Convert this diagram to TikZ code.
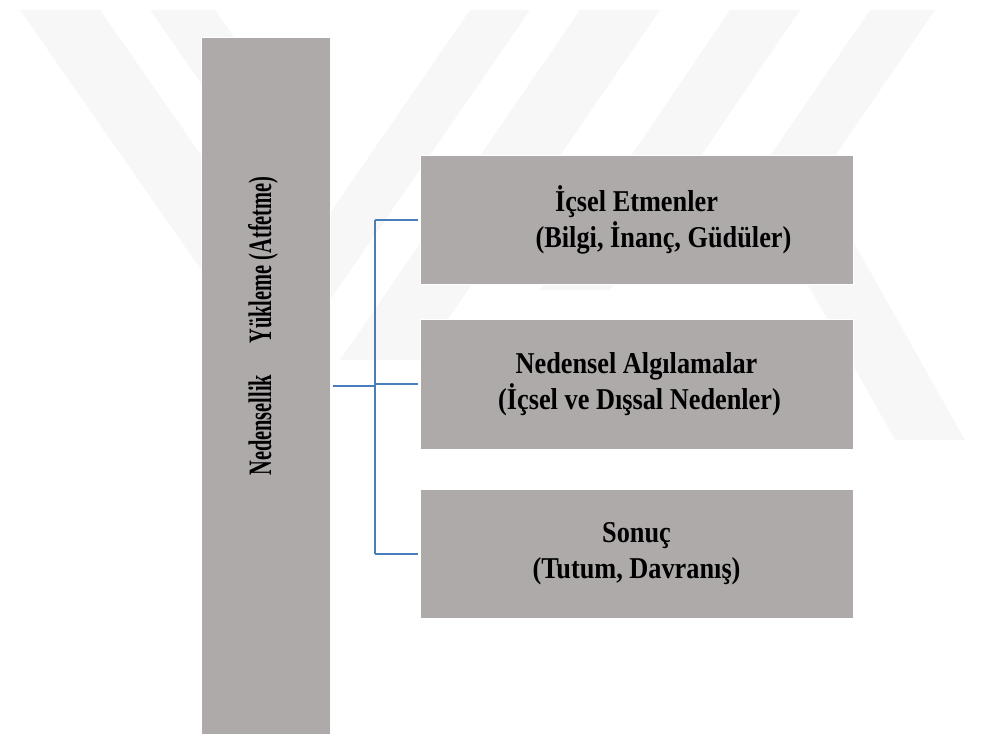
\documentclass[tikz,border=0pt]{standalone}
\usepackage{fontspec}
\setmainfont{Liberation Serif}
\usetikzlibrary{
    positioning,
    calc
}
\definecolor{boxgray}{HTML}{AEAAAA}
\definecolor{linkblue}{HTML}{4A7EBB}
\definecolor{wmarkgray}{HTML}{F7F7F7}
\newcommand{\tallrow}[1]{\scalebox{1}[1.15]{#1}}

\begin{document}
\begin{tikzpicture}[
        x=1bp, y=-1bp,
        greybox/.style={fill=boxgray, draw=white, line width=1bp, inner sep=0pt, align=center,
            font=\bfseries\fontsize{26.4}{36}\selectfont},
        sidebox/.style={greybox, minimum width=433bp, minimum height=129bp},
        link/.style={draw=linkblue, line width=2bp},
        wmark/.style={fill=wmarkgray}
    ]
                        \useasboundingbox (0, 0) rectangle (981, 736);
                        % faint watermark
                        \fill[wmark] (20, 10) -- (100, 10) -- (330, 340) -- (250, 340) -- cycle;
                        \fill[wmark] (150, 10) -- (215, 10) -- (330, 175) -- (265, 175) -- cycle;
                        \fill[wmark] (470, 10) -- (530, 10) -- (330, 300) -- (270, 300) -- cycle;
                        \fill[wmark] (580, 10) -- (660, 10) -- (420, 360) -- (340, 360) -- cycle;
                        \fill[wmark] (730, 10) -- (800, 10) -- (610, 290) -- (540, 290) -- cycle;
                        \fill[wmark] (870, 10) -- (935, 10) -- (750, 280) -- (685, 280) -- cycle;
                        \fill[wmark] (760, 200) -- (830, 200) -- (965, 440) -- (895, 440) -- cycle;
                        % boxes
                        \node[greybox, minimum width=129bp, minimum height=696bp] (yukleme) at (265.5, 386) {};
                        \node[rotate=90, font=\bfseries\fontsize{20.5}{24}\selectfont] (yuklemelbl) at (263, 326)
                            {\scalebox{1}[1.6]{Nedensellik\hspace{31bp}Yükleme (Atfetme)}};
                        \node[sidebox] (icsel) at (636.5, 219.5)
                            {\tallrow{İçsel Etmenler}\\\hspace*{54bp}\tallrow{(Bilgi, İnanç, Güdüler)}};
                        \node[sidebox, minimum height=130bp, below=34bp of icsel] (algi)
                            {\tallrow{Nedensel Algılamalar}\\\hspace*{6bp}\tallrow{(İçsel ve Dışsal Nedenler)}};
                        \node[sidebox, below=39bp of algi] (sonuc)
                            {\tallrow{Sonuç}\\\tallrow{(Tutum, Davranış)}};
                        % connectors
                        \coordinate (hub) at (375, 386);
                        \draw[link, line width=2.8bp, shorten <=2bp] (yukleme.east |- hub) -- (hub);
                        \draw[link] (hub |- icsel.west) -- (hub |- sonuc.west);
                        \foreach \b in {icsel, algi, sonuc}
                            \draw[link, shorten >=2bp] (hub |- \b.west) -- (\b.west);
\end{tikzpicture}
\end{document}
